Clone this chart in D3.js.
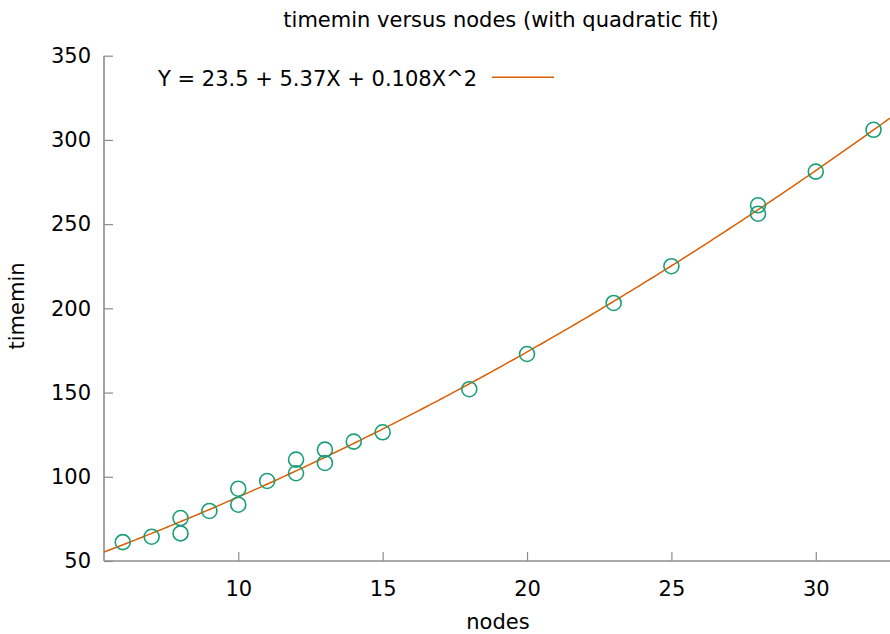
<!DOCTYPE html>
<html>
<head>
<meta charset="utf-8">
<script src="https://cdn.jsdelivr.net/npm/d3@7"></script>
<style>
  body { margin: 0; background: #fff; }
  svg { display: block; font-family: "DejaVu Sans", sans-serif; }
</style>
</head>
<body>
<svg id="chart" width="890" height="634"></svg>
<script>
const nodes   = [6, 7, 8, 8, 9, 10, 10, 11, 12, 12, 13, 13, 14, 15, 18, 20, 23, 25, 28, 28, 30, 32];
const timemin = [61.2, 64.4, 75.5, 66.4, 79.7, 92.9, 83.4, 97.5, 110.2, 102.1, 116.1, 108.2, 120.9, 126.4, 152.0, 172.9, 203.2, 225.0, 261.2, 256.2, 281.2, 306.0];
const fitCoef = [23.5, 5.37, 0.108];
const xTicks = [10, 15, 20, 25, 30];
const yTicks = [50, 100, 150, 200, 250, 300, 350];
const titleText = "timemin versus nodes (with quadratic fit)";
const legendText = "Y = 23.5 + 5.37X + 0.108X^2";

const svg = d3.select("#chart");
const x = d3.scaleLinear().domain([5.35, 32.57]).range([104, 890]);
const y = d3.scaleLinear().domain([50, 350]).range([561, 55.7]);
const axisColor = "#8c8c8c";
const green = "#1b9e77", orange = "#d95f02";
const fs = "21px";

// axes
const xAxis = svg.append("g").attr("transform", "translate(0,561)")
  .call(d3.axisBottom(x).tickValues(xTicks).tickSize(-9).tickPadding(20).tickFormat(d3.format("d")));
const yAxis = svg.append("g").attr("transform", "translate(104,0)")
  .call(d3.axisLeft(y).tickValues(yTicks).tickSize(-9).tickPadding(13).tickFormat(d3.format("d")));
[xAxis, yAxis].forEach(g => {
  g.select(".domain").attr("stroke", axisColor).attr("stroke-width", 1.6);
  g.selectAll(".tick line").attr("stroke", axisColor).attr("stroke-width", 1.2);
  g.selectAll(".tick text").attr("fill", "#000").style("font-size", fs).style("font-family", "DejaVu Sans");
});
xAxis.select(".domain").attr("d", "M104,0H890");
yAxis.select(".domain").attr("d", "M0,561V55.7");

// fit curve
svg.append("clipPath").attr("id", "clip").append("rect")
  .attr("x", 104).attr("y", 40).attr("width", 786).attr("height", 521);
const xs = d3.range(0, 201).map(i => 5.35 + (32.57 - 5.35) * i / 200);
const line = d3.line().x(d => x(d)).y(d => y(fitCoef[0] + fitCoef[1] * d + fitCoef[2] * d * d));
svg.append("path").datum(xs).attr("d", line).attr("fill", "none")
  .attr("stroke", orange).attr("stroke-width", 1.5).attr("clip-path", "url(#clip)");

// points
svg.append("g").selectAll("circle").data(nodes.map((n, i) => [n, timemin[i]])).join("circle")
  .attr("cx", d => x(d[0])).attr("cy", d => y(d[1])).attr("r", 7.5)
  .attr("fill", "none").attr("stroke", green).attr("stroke-width", 1.6);

// title
svg.append("text").attr("x", 501).attr("y", 27).attr("text-anchor", "middle")
  .style("font-size", "21px").text(titleText);

// legend
svg.append("text").attr("x", 158).attr("y", 86).style("font-size", fs).text(legendText);
svg.append("line").attr("x1", 492).attr("x2", 554).attr("y1", 77.3).attr("y2", 77.3)
  .attr("stroke", orange).attr("stroke-width", 1.5);

// axis labels
svg.append("text").attr("x", 498).attr("y", 629).attr("text-anchor", "middle")
  .style("font-size", fs).text("nodes");
svg.append("text").attr("transform", "translate(24,306) rotate(-90)").attr("text-anchor", "middle")
  .style("font-size", fs).text("timemin");
</script>
</body>
</html>
